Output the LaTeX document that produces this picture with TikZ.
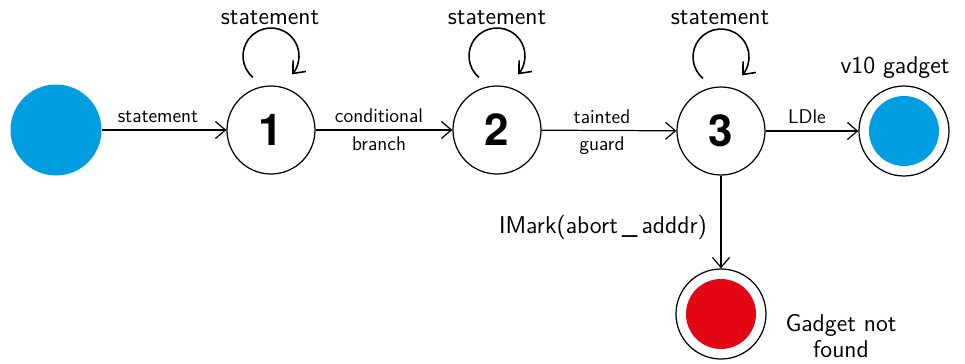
\documentclass[tikz,border=0pt]{standalone}
\usepackage{fontspec}
\usetikzlibrary{arrows.meta}
\newfontfamily\digitfont{TeX Gyre Heros}
\definecolor{startblue}{RGB}{0,158,224}
\definecolor{failred}{RGB}{227,6,19}
\begin{document}
\begin{tikzpicture}[x=0.02cm,y=0.02cm,
  font=\sffamily,
  every path/.style={line width=0.7pt},
  arr/.style={-{Straight Barb[length=2mm,width=3.4mm,line width=0.7pt]}},
  looparr/.style={line width=0.9pt,-{Straight Barb[length=2mm,width=3.4mm,line width=0.9pt]}},
  state/.style={circle,draw,line width=0.7pt,minimum size=88*0.02cm,inner sep=0pt,font=\digitfont\bfseries\fontsize{25}{25}\selectfont},
  accept/.style={circle,draw,line width=0.7pt,minimum size=90*0.02cm,inner sep=0pt},
  dot/.style={circle,fill=#1,minimum size=70*0.02cm,inner sep=0pt},
  elabel/.style={font=\sffamily\fontsize{11.3}{12}\selectfont},
  biglabel/.style={font=\sffamily\fontsize{13.8}{15}\selectfont}]
\useasboundingbox (0,0) rectangle (965,363);

% states
\node[circle,fill=startblue,minimum size=91*0.02cm,inner sep=0pt] (s) at (56,233) {};
\node[state] (n1) at (271,233) {1};
\node[state] (n2) at (497,233) {2};
\node[state] (n3) at (721,232) {3};
\node[accept] (ok) at (904,232) {};
\node[dot=startblue] at (ok) {};
\node[accept] (ko) at (721,49) {};
\node[dot=failred] at (ko) {};

% transitions
\draw[arr] (s) -- (n1);
\draw[arr] (n1) -- (n2);
\draw[arr] (n2) -- (n3);
\draw[arr] (n3) -- (ok);
\draw[arr] (n3) -- (ko);

% self loops
\foreach \n in {n1,n2,n3}
  \draw[looparr] ([shift={(230:28)}]\n.center) ++(0,74) arc[start angle=230,end angle=-41,radius=28];

% edge labels
\node[elabel] (l1) at (158,246) {statement};
\node[elabel] (l2a) at (379,247) {conditional};
\node[elabel] (l2b) at (379,219) {branch};
\node[elabel] (l3a) at (602,246) {tainted};
\node[elabel] (l3b) at (602,217) {guard};
\node[elabel] (l4) at (807,246) {LDle};

\node[biglabel] (t1) at (270,345) {statement};
\node[biglabel] (t2) at (497,345) {statement};
\node[biglabel] (t3) at (720,345) {statement};
\node[biglabel] (v10) at (895,295) {v10 gadget};
\node[biglabel] (im) at (603,136) {IMark(abort\,\_\,adddr)};
\node[biglabel,align=center] (gnf) at (841,27) {Gadget not\\found};
\end{tikzpicture}
\end{document}
